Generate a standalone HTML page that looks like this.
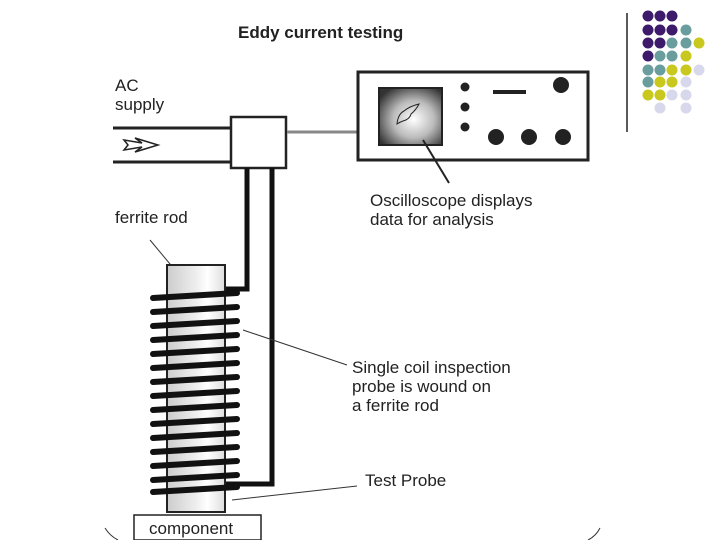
<!DOCTYPE html>
<html><head><meta charset="utf-8"><style>
html,body{margin:0;padding:0;background:#fff;}
svg{display:block;}
text{font-family:"Liberation Sans",Arial,sans-serif;fill:#222;}
</style></head><body>
<svg width="720" height="540" viewBox="0 0 720 540" xmlns="http://www.w3.org/2000/svg">
<defs>
<radialGradient id="scr" cx="0.55" cy="0.55" r="0.65">
<stop offset="0" stop-color="#fff"/><stop offset="0.5" stop-color="#bbb"/><stop offset="1" stop-color="#333"/>
</radialGradient>
<linearGradient id="rod" x1="0" x2="1">
<stop offset="0" stop-color="#ccc"/><stop offset="0.5" stop-color="#eee"/><stop offset="0.7" stop-color="#fff"/><stop offset="1" stop-color="#ddd"/>
</linearGradient>
</defs>
<path d="M105 528 Q110 536 118 540" stroke="#333" fill="none"/>
<path d="M600 528 Q596 536 588 540" stroke="#333" fill="none"/>
<text x="238" y="38" font-size="17" font-weight="bold">Eddy current testing</text>
<text x="115" y="91" font-size="17">AC</text>
<text x="115" y="110" font-size="17">supply</text>
<line x1="113" y1="128" x2="232" y2="128" stroke="#222" stroke-width="3"/>
<line x1="113" y1="162" x2="232" y2="162" stroke="#222" stroke-width="3"/>
<path d="M124 140 L142 143 L135 138 L158 145 L135 152 L142 147 L124 150 L128 145 Z" fill="none" stroke="#222" stroke-width="1.5"/>
<rect x="231" y="117" width="55" height="51" fill="#fff" stroke="#222" stroke-width="2.5"/>
<line x1="287" y1="132" x2="358" y2="132" stroke="#888" stroke-width="3"/>
<rect x="358" y="72" width="230" height="88" fill="#fff" stroke="#222" stroke-width="3"/>
<rect x="379" y="88" width="63" height="57" fill="url(#scr)" stroke="#222" stroke-width="2"/>
<path d="M397 124 Q398 114 404 111 Q410 106 419 104 Q416 110 411 114 Q410 119 403 121 Q400 122 397 124 Z" fill="none" stroke="#222" stroke-width="1"/>
<circle cx="465" cy="87" r="4.5" fill="#222"/>
<circle cx="465" cy="107" r="4.5" fill="#222"/>
<circle cx="465" cy="127" r="4.5" fill="#222"/>
<rect x="493" y="90" width="33" height="4" fill="#222"/>
<circle cx="561" cy="85" r="8" fill="#222"/>
<circle cx="496" cy="137" r="8" fill="#222"/>
<circle cx="529" cy="137" r="8" fill="#222"/>
<circle cx="563" cy="137" r="8" fill="#222"/>
<line x1="423" y1="140" x2="449" y2="183" stroke="#222" stroke-width="2"/>
<text x="370" y="206" font-size="17">Oscilloscope displays</text>
<text x="370" y="225" font-size="17">data for analysis</text>
<text x="115" y="223" font-size="17">ferrite rod</text>
<line x1="150" y1="240" x2="180" y2="276" stroke="#333" stroke-width="1"/>
<path d="M247 168 V289 H200" fill="none" stroke="#111" stroke-width="5"/>
<path d="M272 168 V484 H225" fill="none" stroke="#111" stroke-width="5"/>
<rect x="167" y="265" width="58" height="247" fill="url(#rod)" stroke="#222" stroke-width="2"/>
<g stroke="#111" stroke-width="6" stroke-linecap="round">
<line x1="153" y1="298" x2="237" y2="293"/>
<line x1="153" y1="312" x2="237" y2="307"/>
<line x1="153" y1="326" x2="237" y2="321"/>
<line x1="153" y1="340" x2="237" y2="335"/>
<line x1="153" y1="354" x2="237" y2="349"/>
<line x1="153" y1="368" x2="237" y2="363"/>
<line x1="153" y1="382" x2="237" y2="377"/>
<line x1="153" y1="396" x2="237" y2="391"/>
<line x1="153" y1="410" x2="237" y2="405"/>
<line x1="153" y1="424" x2="237" y2="419"/>
<line x1="153" y1="438" x2="237" y2="433"/>
<line x1="153" y1="452" x2="237" y2="447"/>
<line x1="153" y1="466" x2="237" y2="461"/>
<line x1="153" y1="480" x2="237" y2="475"/>
<line x1="153" y1="492" x2="237" y2="487"/>
</g>
<rect x="134" y="515" width="127" height="25" fill="#fff" stroke="#222" stroke-width="1.5"/>
<text x="149" y="534" font-size="17">component</text>
<line x1="243" y1="330" x2="347" y2="365" stroke="#333" stroke-width="1"/>
<text x="352" y="373" font-size="17">Single coil inspection</text>
<text x="352" y="392" font-size="17">probe is wound on</text>
<text x="352" y="411" font-size="17">a ferrite rod</text>
<line x1="232" y1="500" x2="357" y2="486" stroke="#333" stroke-width="1"/>
<text x="365" y="486" font-size="17">Test Probe</text>
<line x1="627" y1="13" x2="627" y2="132" stroke="#222" stroke-width="1.5"/>
<g>
<circle cx="648" cy="16" r="5.5" fill="#3d1a6b"/><circle cx="660" cy="16" r="5.5" fill="#3d1a6b"/><circle cx="672" cy="16" r="5.5" fill="#3d1a6b"/>
<circle cx="648" cy="30" r="5.5" fill="#3d1a6b"/><circle cx="660" cy="30" r="5.5" fill="#3d1a6b"/><circle cx="672" cy="30" r="5.5" fill="#3d1a6b"/><circle cx="686" cy="30" r="5.5" fill="#6a9e9e"/>
<circle cx="648" cy="43" r="5.5" fill="#3d1a6b"/><circle cx="660" cy="43" r="5.5" fill="#3d1a6b"/><circle cx="672" cy="43" r="5.5" fill="#6a9e9e"/><circle cx="686" cy="43" r="5.5" fill="#6a9e9e"/><circle cx="699" cy="43" r="5.5" fill="#c8c81e"/>
<circle cx="648" cy="56" r="5.5" fill="#3d1a6b"/><circle cx="660" cy="56" r="5.5" fill="#6a9e9e"/><circle cx="672" cy="56" r="5.5" fill="#6a9e9e"/><circle cx="686" cy="56" r="5.5" fill="#c8c81e"/>
<circle cx="648" cy="70" r="5.5" fill="#6a9e9e"/><circle cx="660" cy="70" r="5.5" fill="#6a9e9e"/><circle cx="672" cy="70" r="5.5" fill="#c8c81e"/><circle cx="686" cy="70" r="5.5" fill="#c8c81e"/><circle cx="699" cy="70" r="5.5" fill="#d8d8ec"/>
<circle cx="648" cy="82" r="5.5" fill="#6a9e9e"/><circle cx="660" cy="82" r="5.5" fill="#c8c81e"/><circle cx="672" cy="82" r="5.5" fill="#c8c81e"/><circle cx="686" cy="82" r="5.5" fill="#d8d8ec"/>
<circle cx="648" cy="95" r="5.5" fill="#c8c81e"/><circle cx="660" cy="95" r="5.5" fill="#c8c81e"/><circle cx="672" cy="95" r="5.5" fill="#d8d8ec"/><circle cx="686" cy="95" r="5.5" fill="#d8d8ec"/>
<circle cx="660" cy="108" r="5.5" fill="#d8d8ec"/><circle cx="686" cy="108" r="5.5" fill="#d8d8ec"/>
</g>
</svg>
</body></html>
